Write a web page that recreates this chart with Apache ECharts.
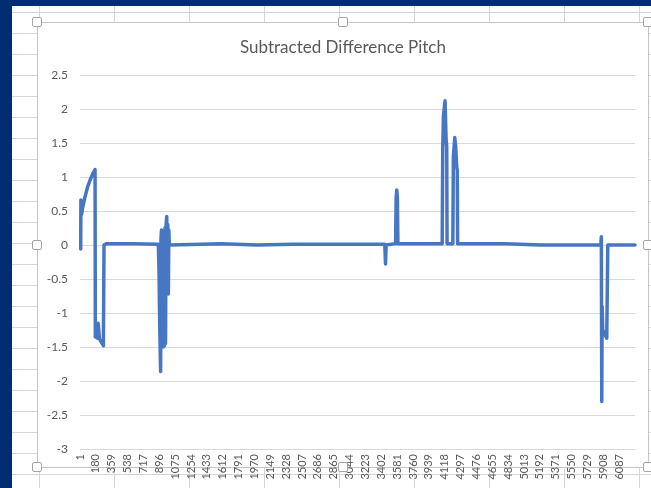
<!DOCTYPE html>
<html>
<head>
<meta charset="utf-8">
<script src="https://cdn.jsdelivr.net/npm/echarts@6/dist/echarts.min.js"></script>
<style>
    html, body {
        margin: 0;
        padding: 0;
        width: 651px;
        height: 488px;
        overflow: hidden;
    }
    body {
        position: relative;
        background-color: #ffffff;
        background-image:
            repeating-linear-gradient(90deg, transparent 0, transparent 39px, #d6d6d6 39px, #d6d6d6 40px, transparent 40px, transparent 75px),
            repeating-linear-gradient(180deg, transparent 0, transparent 12px, #d6d6d6 12px, #d6d6d6 13px, transparent 13px, transparent 21px);
    }
    .edge-left { position: absolute; left: 0; top: 0; width: 12px; height: 488px; background: #012d72; }
    .edge-top { position: absolute; left: 0; top: 0; width: 651px; height: 6px; background: #012d72; }
    .frame {
        position: absolute;
        left: 37px;
        top: 22px;
        width: 610px;
        height: 444px;
        background: #ffffff;
        border: 1px solid #c4c4c4;
    }
    #chart {
        position: absolute;
        left: 0;
        top: 0;
        width: 651px;
        height: 488px;
    }
    .handle {
        position: absolute;
        width: 8px;
        height: 8px;
        background: #ffffff;
        border: 1px solid #a6a6a6;
        border-radius: 2px;
        z-index: 5;
    }
</style>
</head>
<body>
<div class="edge-left"></div>
<div class="edge-top"></div>
<div class="frame"></div>
<div id="chart"></div>
<div class="handle" style="left:32px;top:17px"></div>
<div class="handle" style="left:338px;top:17px"></div>
<div class="handle" style="left:643px;top:17px"></div>
<div class="handle" style="left:32px;top:240px"></div>
<div class="handle" style="left:643px;top:240px"></div>
<div class="handle" style="left:32px;top:462px"></div>
<div class="handle" style="left:338px;top:462px"></div>
<div class="handle" style="left:643px;top:462px"></div>
<script>
// x tick labels, one every 179 samples
const tickLabels = ['1', '180', '359', '538', '717', '896', '1075', '1254', '1433', '1612',
    '1791', '1970', '2149', '2328', '2507', '2686', '2865', '3044', '3223', '3402',
    '3581', '3760', '3939', '4118', '4297', '4476', '4655', '4834', '5013', '5192',
    '5371', '5550', '5729', '5908', '6087'];
const tickStep = 179;
const lastSample = 6264;

// sample positions (0-based) where the trace changes
const sampleIndex = [
    8, 10, 18, 30, 55, 85, 115, 145, 170, 173, 200, 205, 212, 220, 264, 271, 300, 600, 610, 884,
    892, 900, 910, 914, 920, 926, 932, 940, 946, 953, 959, 965, 972, 979, 985, 991, 997, 1003, 1008,
    1600, 1610, 2000, 2400, 3440,
    3448, 3455, 3562, 3568, 3575, 3582, 3588,
    4088, 4094, 4102, 4120, 4132, 4139, 4143, 4208, 4214, 4230, 4240, 4252, 4258, 4262,
    4800, 5200, 5878,
    5884, 5889, 5893, 5900, 5920, 5945, 5952, 5957, 6264
];
const pitchDiff = [
    -0.06, 0.66, 0.45, 0.55, 0.7, 0.85, 0.96, 1.05, 1.11, -1.35, -1.37, -1.15, -1.15, -1.38, -1.48, 0.0, 0.02, 0.02, 0.01, 0.01,
    -0.4, -1.2, -1.86, 0.1, 0.22, -1.5, 0.18, -1.5, 0.2, -1.48, 0.25, -1.45, 0.3, 0.42, -0.7, 0.3, -0.72, 0.22, 0.0,
    0.02, 0.0, 0.0, 0.01, 0.01,
    -0.28, 0.0, 0.02, 0.68, 0.81, 0.7, 0.02,
    0.02, 1.4, 1.9, 2.12, 1.55, 1.45, 0.02, 0.02, 1.3, 1.58, 1.45, 1.15, 1.1, 0.02,
    0.02, 0.0, 0.0,
    0.12, -2.3, -0.9, -1.25, -1.3, -1.37, -1.35, 0.0, 0.0
];

const textColor = '#595959';
const gridColor = '#d9d9d9';
const lineColor = '#4777c3';

const chart = echarts.init(document.getElementById('chart'), null, { renderer: 'canvas' });
chart.setOption({
    animation: false,
    backgroundColor: 'transparent',
    title: {
        text: 'Subtracted Difference Pitch',
        left: 235,
        top: 34,
        textStyle: {
            color: textColor,
            fontFamily: 'Lato',
            fontSize: 17,
            fontWeight: 'normal'
        }
    },
    grid: {
        left: 80,
        right: 16,
        top: 75,
        bottom: 39
    },
    xAxis: {
        type: 'value',
        min: 0,
        max: lastSample,
        interval: tickStep,
        axisLine: {
            onZero: true,
            lineStyle: { color: gridColor }
        },
        axisTick: { show: false },
        splitLine: { show: false },
        axisLabel: {
            rotate: 90,
            margin: 5,
            color: textColor,
            fontFamily: 'Lato',
            fontSize: 11,
            showMaxLabel: false,
            formatter: (v) => tickLabels[Math.round(v / tickStep)] || ''
        }
    },
    yAxis: {
        type: 'value',
        min: -3,
        max: 2.5,
        interval: 0.5,
        axisLine: { show: false },
        axisTick: { show: false },
        splitLine: {
            show: true,
            lineStyle: { color: gridColor, width: 1 }
        },
        axisLabel: {
            margin: 12,
            color: textColor,
            fontFamily: 'Lato',
            fontSize: 12
        }
    },
    series: [{
        type: 'line',
        data: sampleIndex.map((x, i) => [x, pitchDiff[i]]),
        showSymbol: false,
        sampling: null,
        lineStyle: {
            color: lineColor,
            width: 3.5,
            join: 'round',
            cap: 'round'
        },
        itemStyle: { color: lineColor }
    }]
});
</script>
</body>
</html>
